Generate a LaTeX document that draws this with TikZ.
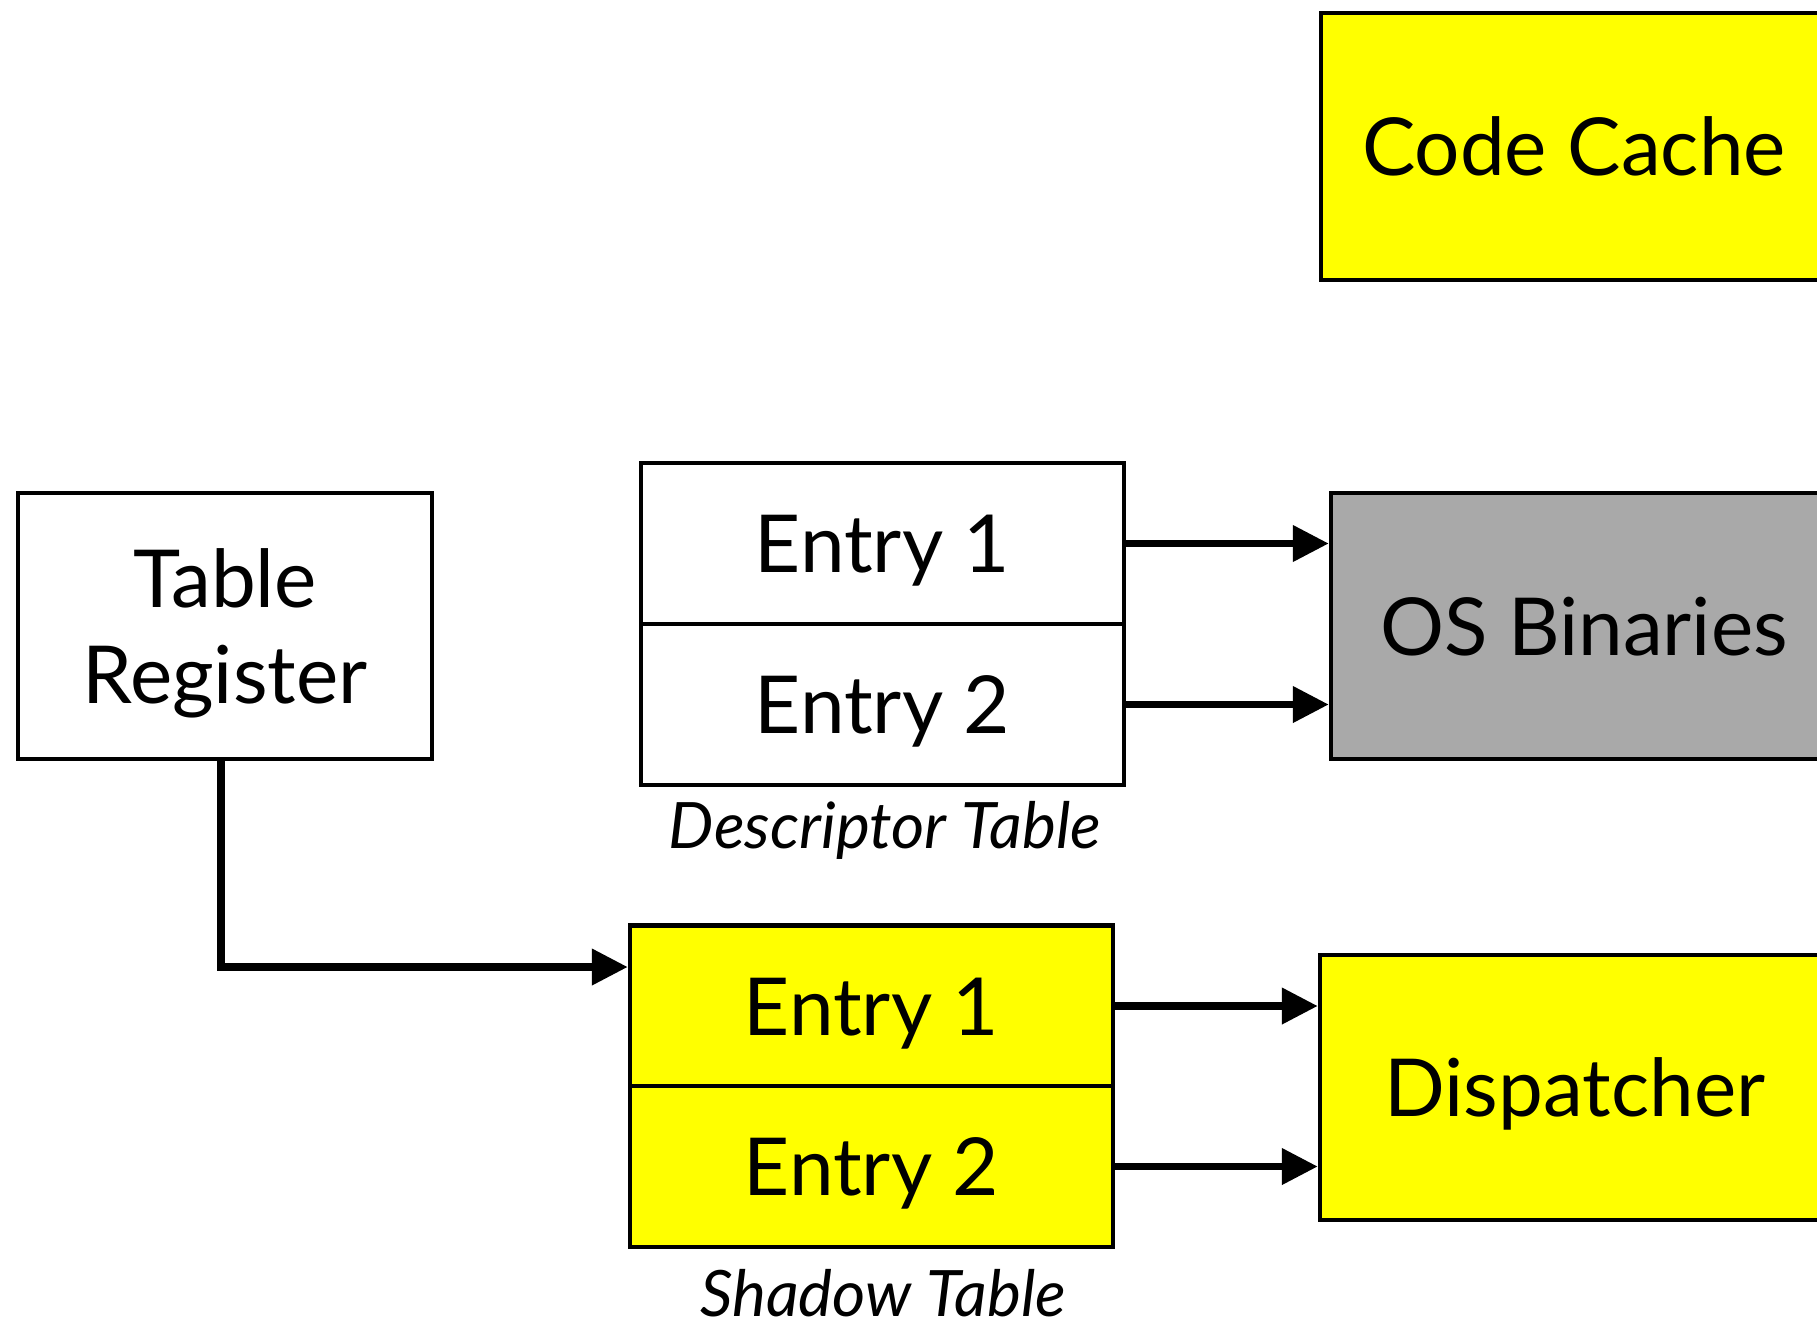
\documentclass[tikz,border=0pt]{standalone}
\usepackage{fontspec}
\setmainfont{Lato}
\usetikzlibrary{arrows.meta}
\definecolor{boxyellow}{HTML}{FFFF00}
\definecolor{boxgray}{HTML}{A9A9A9}
\begin{document}
\begin{tikzpicture}[x=1pt,y=-1pt,
  box/.style={draw=black, line width=4.5pt, fill=white, inner sep=0pt,
    font=\fontsize{80}{96}\selectfont, text height=58pt, text depth=0pt},
  regbox/.style={draw=black, line width=4.5pt, fill=white, inner sep=0pt},
  regtext/.style={font=\fontsize{80}{96}\selectfont, align=center, inner sep=0pt, yshift=-7pt},
  cell/.style={box, minimum width=483pt, minimum height=161pt},
  bigbox/.style={box, minimum width=506pt, minimum height=266pt},
  caption/.style={font=\fontsize{64}{70}\selectfont\itshape, inner sep=0pt, anchor=base},
  conn/.style={line width=7.5pt, -{Triangle[length=36pt,width=35pt]}}]
\useasboundingbox (0,0) rectangle (1817,1323);
\clip (0,0) rectangle (1817,1323);

% right-hand blocks (they run past the right edge)
\node[bigbox, fill=boxyellow, minimum height=267pt] (cc) at (1574,146.5) {Code Cache};
\node[bigbox, fill=boxgray] (os) at (1584,626) {OS Binaries};
\node[bigbox, fill=boxyellow, minimum width=510pt, minimum height=265pt] (disp) at (1575,1087.5) {Dispatcher};

% table register
\node[regbox, minimum width=414pt, minimum height=266pt,
  label={[regtext]center:{Table\\Register}}] (tr) at (225,626) {};

% descriptor table
\node[cell] (dt1) at (882.5,543.5) {Entry 1};
\node[cell] (dt2) at (882.5,704.5) {Entry 2};
\node[caption] (dtcap) at (885,848) {Descriptor Table};

% shadow table
\node[cell, fill=boxyellow] (st1) at (871.5,1006) {Entry 1};
\node[cell, fill=boxyellow] (st2) at (871.5,1166.5) {Entry 2};
\node[caption] (stcap) at (883,1316) {Shadow Table};

% connectors
\draw[conn] (dt1.east) -- (dt1.east -| os.west);
\draw[conn] (dt2.east) -- (dt2.east -| os.west);
\draw[conn] (st1.east) -- (st1.east -| disp.west);
\draw[conn] (st2.east) -- (st2.east -| disp.west);
\coordinate (bend) at (221,967);
\draw[conn] (tr.south -| bend) -- (bend) -- (bend -| st1.west);
\end{tikzpicture}
\end{document}
